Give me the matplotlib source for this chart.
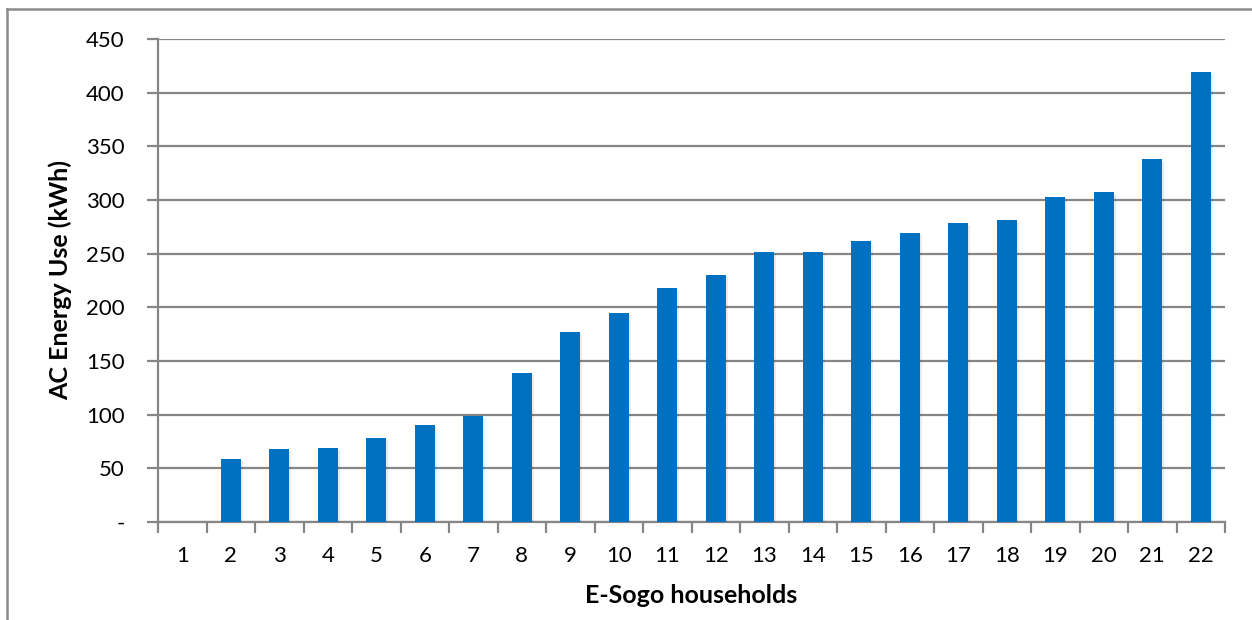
import matplotlib
matplotlib.use("Agg")
import matplotlib.pyplot as plt
import matplotlib.patheffects as pe
from matplotlib.lines import Line2D

# Household categories and their AC energy use (kWh)
households = [str(i) for i in range(1, 23)]
energy_kwh = [0, 59, 68, 69, 78, 90, 99, 139, 177, 195, 218, 230,
              252, 252, 262, 269, 279, 281, 303, 307, 338, 419]
y_ticks = [0, 50, 100, 150, 200, 250, 300, 350, 400, 450]
y_tick_labels = ["-", "50", "100", "150", "200", "250", "300", "350", "400", "450"]

W, H = 1252, 620
plt.rcParams["font.family"] = ["Lato", "DejaVu Sans"]

fig = plt.figure(figsize=(W / 100, H / 100), dpi=100)
ax = fig.add_axes([158 / W, (H - 522) / H, (1225 - 158) / W, (522 - 39) / H])

grid_color = "#868686"
bar_color = "#0070C0"

x = list(range(len(households)))
bars = ax.bar(x, energy_kwh, width=0.41, color=bar_color, zorder=3,
              linewidth=0)
for b in bars:
    b.set_path_effects([pe.SimplePatchShadow(offset=(1.5, -1.5), shadow_rgbFace="#000000",
                                             alpha=0.08), pe.Normal()])

ax.set_xlim(-0.5, len(households) - 0.5)
ax.set_ylim(0, 450)

ax.set_yticks(y_ticks)
ax.set_yticklabels(y_tick_labels, fontsize=16)
ax.set_xticks(x)
ax.set_xticklabels(households, fontsize=16)
ax.tick_params(axis="x", length=0, pad=17)
ax.tick_params(axis="y", length=8, width=1.6, color=grid_color, pad=16)

# boundary ticks between categories on the x axis
ax.set_xticks([i - 0.5 for i in range(len(households) + 1)], minor=True)
ax.tick_params(axis="x", which="minor", length=8, width=1.6, color=grid_color)

ax.yaxis.grid(True, color=grid_color, linewidth=1.6, zorder=0)
ax.set_axisbelow(True)

for side in ("top", "right"):
    ax.spines[side].set_visible(False)
for side in ("left", "bottom"):
    ax.spines[side].set_color(grid_color)
    ax.spines[side].set_linewidth(1.6)

ax.set_xlabel("E-Sogo households", fontsize=18, fontweight="bold", labelpad=13)
ax.set_ylabel("AC Energy Use (kWh)", fontsize=18, fontweight="bold", labelpad=10)

# chart-area frame
fig.add_artist(Line2D([7 / W, 7 / W], [0, (H - 9) / H], color="#8c8c8c",
                      linewidth=1.8, transform=fig.transFigure))
fig.add_artist(Line2D([7 / W, 1], [(H - 9) / H, (H - 9) / H], color="#8c8c8c",
                      linewidth=1.8, transform=fig.transFigure))

fig.savefig("out.png", dpi=100, facecolor="white")
